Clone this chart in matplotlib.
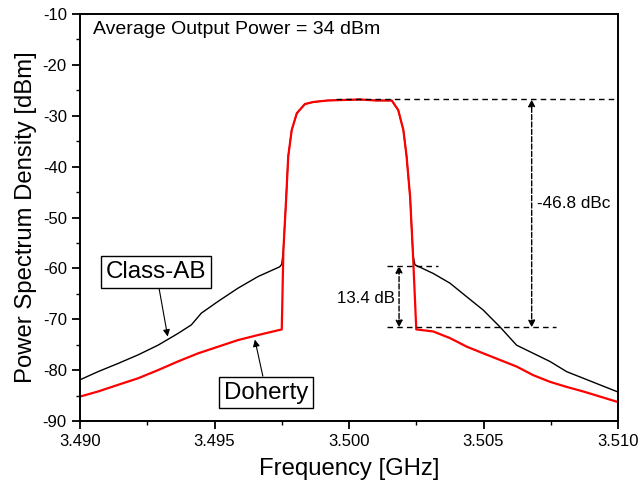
import matplotlib
matplotlib.use("Agg")
import matplotlib.pyplot as plt

plt.rcParams['font.family'] = ['Liberation Sans', 'DejaVu Sans']
plt.rcParams['axes.unicode_minus'] = False

# Class-AB spectrum (GHz, dBm)
ab_f = [3.4900, 3.49067, 3.49141, 3.49216, 3.4929, 3.49364, 3.49414, 3.49451,
        3.49513, 3.49587, 3.49662, 3.49742, 3.4975,
        3.49756, 3.49766, 3.49774, 3.49787, 3.49806, 3.49836, 3.49867,
        3.4992, 3.4998, 3.5004, 3.5010, 3.50159,
        3.50183, 3.50202, 3.50214, 3.50227, 3.50238,
        3.50245, 3.50313, 3.50375, 3.50438, 3.50499, 3.50561, 3.50623, 3.50685,
        3.50747, 3.50809, 3.50871, 3.50933, 3.50995, 3.5100]
ab_p = [-81.9, -80.3, -78.7, -77.0, -75.1, -72.8, -71.1, -68.8,
        -66.5, -63.9, -61.6, -59.7, -59.2,
        -56.4, -46.6, -38.0, -32.8, -29.5, -27.7, -27.3,
        -27.0, -26.9, -26.8, -27.0, -27.0,
        -28.9, -32.8, -38.0, -45.9, -57.5,
        -59.3, -61.0, -62.9, -65.6, -68.2, -71.5, -75.1, -76.7,
        -78.3, -80.3, -81.6, -82.9, -84.2, -84.3]

# Doherty spectrum
dh_f = [3.4900, 3.49067, 3.49141, 3.49216, 3.4929, 3.49364, 3.49439, 3.49513,
        3.49587, 3.49662, 3.4975,
        3.49756, 3.49766, 3.49774, 3.49787, 3.49806, 3.49836, 3.49867,
        3.4992, 3.4998, 3.5004, 3.5010, 3.50159,
        3.50183, 3.50202, 3.50214, 3.50227, 3.50238,
        3.5025, 3.50313, 3.50375, 3.50438, 3.50499, 3.50561, 3.50623, 3.50685,
        3.50747, 3.50809, 3.50871, 3.50933, 3.50995, 3.5100]
dh_p = [-85.2, -84.2, -82.9, -81.6, -80.0, -78.3, -76.7, -75.4,
        -74.1, -73.1, -72.0,
        -56.4, -46.6, -38.0, -32.8, -29.5, -27.7, -27.3,
        -27.0, -26.9, -26.8, -27.0, -27.0,
        -28.9, -32.8, -38.0, -45.9, -57.5,
        -72.0, -72.4, -73.7, -75.4, -76.7, -78.0, -79.3, -81.0,
        -82.3, -83.3, -84.2, -85.2, -86.2, -86.3]

top_level = -26.8
ab_edge = -59.5
dh_edge = -71.6

fig = plt.figure(figsize=(6.38, 4.88), dpi=100)
ax = fig.add_axes([0.1254, 0.1373, 0.8433, 0.834])

ax.plot(ab_f, ab_p, color='black', lw=1.0)
ax.plot(dh_f, dh_p, color='red', lw=1.6)

# dashed guide lines
ax.plot([3.4995, 3.5100], [top_level, top_level], 'k--', lw=1.0, dashes=(4, 3))
ax.plot([3.5014, 3.5077], [dh_edge, dh_edge], 'k--', lw=1.0, dashes=(4, 3))
ax.plot([3.5014, 3.5033], [ab_edge, ab_edge], 'k--', lw=1.0, dashes=(4, 3))

arrow = dict(arrowstyle='<|-|>', color='black', lw=1.0, linestyle='--',
             mutation_scale=10, shrinkA=0, shrinkB=0)
ax.annotate('', xy=(3.50679, top_level), xytext=(3.50679, dh_edge), arrowprops=arrow)
ax.annotate('', xy=(3.50186, ab_edge), xytext=(3.50186, dh_edge), arrowprops=arrow)

ax.text(3.5070, -47.3, '-46.8 dBc', fontsize=12.3, va='center', ha='left')
ax.text(3.50172, -66.0, '13.4 dB', fontsize=12.1, va='center', ha='right')
ax.text(3.49048, -13.1, 'Average Output Power = 34 dBm', fontsize=14, va='center', ha='left')

box = dict(boxstyle='square,pad=0.2', fc='white', ec='black', lw=1.0)
thin = dict(arrowstyle='-|>', color='black', lw=0.8, mutation_scale=10, shrinkA=0, shrinkB=0)
ax.annotate('Class-AB', xy=(3.49326, -73.4), xytext=(3.49283, -60.7),
            fontsize=17.4, ha='center', va='center', bbox=box, arrowprops=thin)
ax.annotate('Doherty', xy=(3.4965, -74.0), xytext=(3.49693, -84.4),
            fontsize=17.4, ha='center', va='center', bbox=box, arrowprops=thin)

ax.set_xlim(3.490, 3.510)
ax.set_ylim(-90, -10)
ax.set_xticks([3.490, 3.495, 3.500, 3.505, 3.510])
ax.set_xticklabels(['3.490', '3.495', '3.500', '3.505', '3.510'])
ax.set_xticks([3.4925, 3.4975, 3.5025, 3.5075], minor=True)
ax.set_yticks(range(-90, -9, 10))
ax.set_yticks(range(-85, -10, 10), minor=True)
ax.tick_params(which='major', direction='out', length=6, width=1.3, labelsize=12,
               top=False, right=False)
ax.tick_params(which='minor', direction='out', length=3, width=1.0, top=False, right=False)
for s in ax.spines.values():
    s.set_linewidth(1.4)

ax.set_xlabel('Frequency [GHz]', fontsize=17.2, labelpad=6)
ax.set_ylabel('Power Spectrum Density [dBm]', fontsize=17.2, labelpad=4)

fig.savefig('out.png', dpi=100)
